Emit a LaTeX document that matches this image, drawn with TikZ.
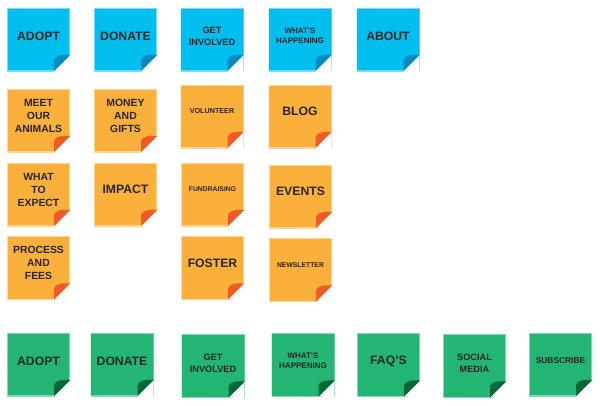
\documentclass[tikz,border=0pt]{standalone}
\usepackage{fontspec}
\setmainfont{Liberation Sans}

\definecolor{skyblue}{RGB}{0,191,239}
\definecolor{skyfold}{RGB}{8,137,196}
\definecolor{notegold}{RGB}{251,176,59}
\definecolor{goldfold}{RGB}{241,90,36}
\definecolor{leafgreen}{RGB}{34,181,115}
\definecolor{leaffold}{RGB}{0,104,55}
\definecolor{ink}{RGB}{38,38,38}

\tikzset{%
  % Specifications for the sticky notes:
         note/.style 2 args = {rectangle, minimum width=63pt, minimum height=63pt, inner sep=0pt, fill=#1,
                               path picture={
                                 \coordinate (se) at (path picture bounding box.south east);
                                 \coordinate (nw) at (path picture bounding box.north west);
                                 \draw[#1!55!white, line width=1.2pt] ([xshift=-16pt]se) -- (se -| nw) -- (nw) -- (nw -| se) -- ([yshift=16pt]se);
                                 \fill[white] ([yshift=16pt]se) -- ([xshift=1pt, yshift=-1pt]se) -- ([xshift=-16pt]se) -- cycle;
                                 \fill[#2] ([yshift=16pt]se) .. controls ([xshift=-9pt, yshift=16.6pt]se) and ([xshift=-14.5pt, yshift=15.5pt]se)
                                           .. ([xshift=-16pt, yshift=11pt]se) -- ([xshift=-16pt]se) -- cycle;}},
         bluenote/.style = {note={skyblue}{skyfold}},
       orangenote/.style = {note={notegold}{goldfold}},
        greennote/.style = {note={leafgreen}{leaffold}},
  % Specifications for the texts (argument: lift above the centre):
              txt/.style = {text=ink, align=center, yshift=#1},
              txt/.default = 5pt,
              big/.style = {txt=#1, font=\fontsize{12.2}{14}\selectfont\bfseries}, big/.default = 5pt,
              mid/.style = {txt=#1, font=\fontsize{10.4}{13}\selectfont\bfseries}, mid/.default = 5pt,
            small/.style = {txt=#1, font=\fontsize{9.2}{12}\selectfont\bfseries}, small/.default = 5pt,
          smaller/.style = {txt=#1, font=\fontsize{8}{9.6}\selectfont\bfseries}, smaller/.default = 5pt,
             tiny/.style = {txt=#1, font=\fontsize{7.2}{9}\selectfont\bfseries}, tiny/.default = 5pt,
}

\begin{document}
\begin{tikzpicture}[x=1pt, y=-1pt]
    \useasboundingbox (0,0) rectangle (600,405);

    % Top menu
    \node (b-adopt)    [bluenote, label={[big=3pt]center:ADOPT}]                 at (38.5,39.5) {};
    \node (b-donate)   [bluenote, label={[big=3pt]center:DONATE}]                at (125.5,39.5) {};
    \node (b-involved) [bluenote, label={[small=3pt]center:GET\\INVOLVED}]       at (212,39.5) {};
    \node (b-news)     [bluenote, label={[smaller=4pt]center:WHAT'S\\HAPPENING}] at (300,39.5) {};
    \node (b-about)    [bluenote, label={[big=3pt]center:ABOUT}]                 at (388,39.5) {};

    % Sub pages
    \node (o-animals)  [orangenote, label={[mid]center:MEET\\OUR\\ANIMALS}]    at (38.5,120.5) {};
    \node (o-money)    [orangenote, label={[mid]center:MONEY\\AND\\GIFTS}]     at (125.5,120.5) {};
    \node (o-volunt)   [orangenote, label={[tiny]center:VOLUNTEER}]            at (212,116.5) {};
    \node (o-blog)     [orangenote, label={[big]center:BLOG}]                  at (300,116.5) {};
    \node (o-expect)   [orangenote, label={[mid]center:WHAT\\TO\\EXPECT}]      at (38.5,194.5) {};
    \node (o-impact)   [orangenote, label={[big]center:IMPACT}]                at (125.5,194.5) {};
    \node (o-funds)    [orangenote, label={[tiny, font=\fontsize{6.8}{9}\selectfont\bfseries]center:FUNDRAISING}] at (212.5,194.5) {};
    \node (o-events)   [orangenote, label={[big]center:EVENTS}]                at (300.5,196.5) {};
    \node (o-process)  [orangenote, label={[mid]center:PROCESS\\AND\\FEES}]    at (38.5,268) {};
    \node (o-foster)   [orangenote, label={[big]center:FOSTER}]                at (212.5,268) {};
    \node (o-letter)   [orangenote, label={[tiny, font=\fontsize{6.8}{9}\selectfont\bfseries]center:NEWSLETTER}] at (300.5,270) {};

    % Footer
    \node (g-adopt)    [greennote, label={[big=3pt]center:ADOPT}]                 at (38.5,364.5) {};
    \node (g-donate)   [greennote, label={[big=3pt]center:DONATE}]                at (122,364.5) {};
    \node (g-involved) [greennote, label={[small=3pt]center:GET\\INVOLVED}]       at (213,366) {};
    \node (g-news)     [greennote, label={[smaller=4pt]center:WHAT'S\\HAPPENING}] at (303,365) {};
    \node (g-faq)      [greennote, label={[big=4pt]center:FAQ'S}]                 at (388.5,365) {};
    \node (g-social)   [greennote, label={[small=3pt]center:SOCIAL\\MEDIA}]       at (474.5,366) {};
    \node (g-subscr)   [greennote, label={[smaller=4pt, font=\fontsize{8.4}{10}\selectfont\bfseries]center:SUBSCRIBE}] at (560.5,364.5) {};
\end{tikzpicture}
\end{document}
